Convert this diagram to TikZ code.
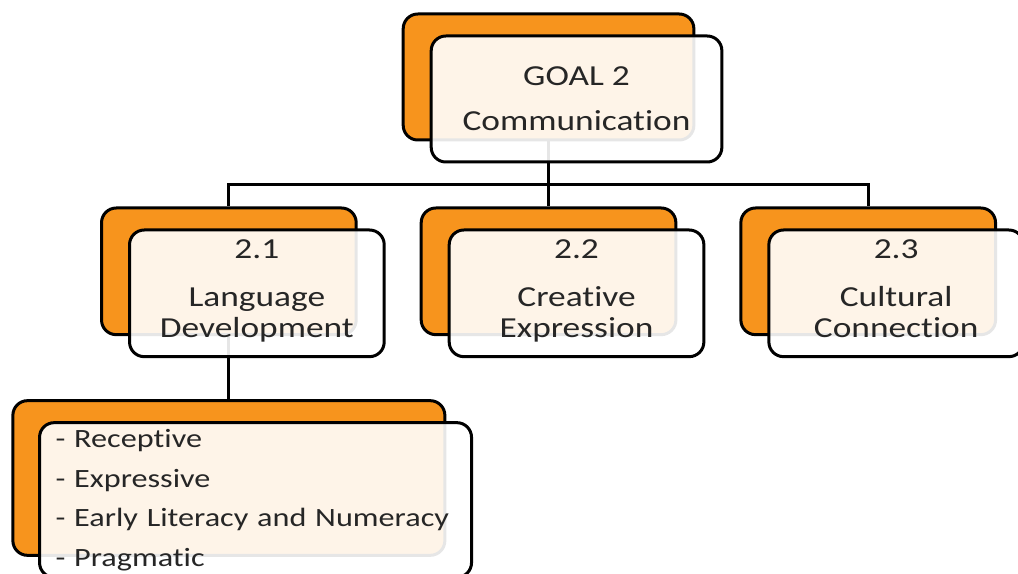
\documentclass[tikz,border=0pt]{standalone}
\usepackage{fontspec}
\setmainfont{Carlito}[FakeStretch=1.22, RawFeature={-liga;-clig;-dlig}]
\usetikzlibrary{positioning, calc}
\definecolor{goalorange}{HTML}{F7941D}
\definecolor{goaltext}{HTML}{262626}

\begin{document}
\begin{tikzpicture}[node distance=46.5pt, line width=2.25pt,
        every node/.style={rounded corners=11pt, text=goaltext},
        back/.style={draw, fill=goalorange},
        front/.style={draw, fill=white, fill opacity=0.9, text opacity=1},
        goalbox/.style={minimum width=218pt, minimum height=94.5pt, align=center, font=\fontsize{21.75}{23.25}\selectfont},
        subbox/.style={minimum width=191pt, minimum height=95pt, align=center, font=\fontsize{21.75}{23.25}\selectfont},
        listbox/.style={minimum height=116pt, text width=300pt, inner xsep=12pt, align=left, font=\fontsize{19.8}{29.6}\selectfont}]
        \useasboundingbox (0,0) rectangle (763.5pt,-430.5pt);
        % orange boxes behind
        \node[back, goalbox] (gback) at (411.4pt,-57.75pt) {};
        \node[back, subbox] (ceback) [below=48.75pt of gback] {};
        \node[back, subbox] (ldback) [left=of ceback] {};
        \node[back, subbox] (ccback) [right=of ceback] {};
        \node[back, listbox] (lstback) [below=47.25pt of ldback] {};
        % connectors
        \coordinate (bus) at ($(gback.south)!.5!(ldback.north)+(0,-8.25pt)$);
        \draw (gback.south) -- (gback.south |- bus) -| (ldback.north);
        \draw (gback.south |- bus) -| (ccback.north);
        \draw (gback.south) -- (ceback.north);
        \draw (ldback.south) -- (lstback.north);
        % front boxes
        \node[front, goalbox] (goal) at ([shift={(21pt,-16.5pt)}]gback.center) {GOAL 2\\[10.5pt]Communication};
        \node[front, subbox] (lang) at ([shift={(21pt,-16.5pt)}]ldback.center) {2.1\\[12.75pt]Language\\Development\strut};
        \node[front, subbox] (creat) at ([shift={(21pt,-16.5pt)}]ceback.center) {2.2\\[12.75pt]Creative\\Expression\strut};
        \node[front, subbox] (cult) at ([shift={(21pt,-16.5pt)}]ccback.center) {2.3\\[12.75pt]Cultural\\Connection\strut};
        \node[front, listbox] (lst) at ([shift={(20pt,-16.5pt)}]lstback.center) {- Receptive\\- Expressive\\- Early Literacy and Numeracy\\- Pragmatic};
    \end{tikzpicture}
\end{document}
